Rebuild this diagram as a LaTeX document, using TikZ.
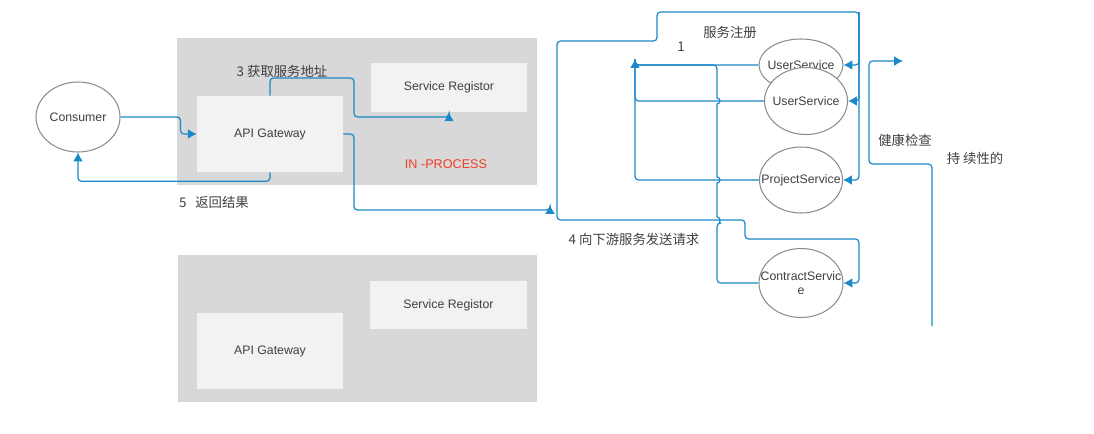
\documentclass[tikz,border=0pt]{standalone}
\usepackage{fontspec}
\setmainfont{Liberation Sans}
\newfontfamily\cjk{Noto Sans CJK SC}
\usepackage{xcolor}
\usepackage{tikz}
\usetikzlibrary{arrows.meta,shapes.geometric}

\definecolor{linkblue}{RGB}{27,136,200}
\definecolor{areagray}{RGB}{216,216,216}
\definecolor{boxgray}{RGB}{242,242,242}
\definecolor{textgray}{RGB}{64,64,64}
\definecolor{procred}{RGB}{240,62,40}

\begin{document}
\begin{tikzpicture}%
                [x=0.02cm,
                y=-0.02cm,
                area/.style={fill=areagray,inner sep=0pt,minimum width=7.2cm,minimum height=2.94cm},
                box/.style={fill=boxgray,inner sep=0pt,text=textgray,font=\fontsize{7}{8.4}\selectfont},
                svctext/.style={inner sep=0pt,text=textgray,align=center,font=\fontsize{7}{8.4}\selectfont},
                svc/.style={ellipse,draw=black!45,fill=white,line width=0.6pt,inner sep=0pt,
                            minimum width=1.68cm,label={[svctext]center:#1}},
                lbl/.style={inner sep=0pt,text=textgray,font=\cjk\fontsize{7.6}{9}\selectfont},
                link/.style={color=linkblue,line width=0.7pt,rounded corners=2pt},
                tip/.style={-{Latex[length=5pt,width=5.5pt]}},
                both/.style={{Latex[length=5pt,width=5.5pt]}-{Latex[length=5pt,width=5.5pt]}},
                hop/.style={start angle=-90,end angle=90,radius=1.7pt}]

            \useasboundingbox (0,0) rectangle (1094,433);
            %% Drawing the process areas
            \node[area] (proc1) at (357,111.5) {};
            \node[area] (proc2) at (357.5,328.5) {};
            %% Boxes inside
            \node[box,minimum width=2.92cm,minimum height=1.52cm] (gw1) at (270,134) {API Gateway};
            \node[box,minimum width=3.12cm,minimum height=0.98cm] (reg1) at (449,87.5) {Service Registor};
            \node[box,minimum width=2.92cm,minimum height=1.52cm] (gw2) at (270,351) {API Gateway};
            \node[box,minimum width=3.14cm,minimum height=0.96cm] (reg2) at (448.5,305) {Service Registor};
            %%
            %% Drawing the services
            %%
            \node[svc=Consumer,minimum height=1.4cm] (consumer) at (78,117) {};
            \node[svc=UserService,minimum height=1.04cm] (user1) at (801,65) {};
            \node[svc=UserService,minimum width=1.66cm,minimum height=1.34cm] (user2) at (806,101) {};
            \node[svc=ProjectService,minimum width=1.66cm,minimum height=1.32cm] (project) at (801,180) {};
            \node[svc={ContractServic\\e},minimum height=1.38cm] (contract) at (801,283) {};
            %%
            %% Labels
            %%
            \node[lbl] (getaddr) at (282,71) {3 获取服务地址};
            \node[lbl,text=procred,font=\fontsize{7.2}{8.6}\selectfont] (inproc) at (446,164) {IN -PROCESS};
            \node[lbl] (retres) at (214,202) {5\hspace{5pt}返回结果};
            \node[lbl] (reglbl) at (730,32) {服务注册};
            \node[lbl] (stepone) at (681,47) {1};
            \node[lbl] (sendreq) at (634,239) {4 向下游服务发送请求};
            \node[lbl] (health) at (905,140) {健康检查};
            \node[lbl] (persist) at (975,158) {持 续性的};
            %%
            %% Bend points
            %%
            \coordinate (q1) at (354,78);
            \coordinate (q2) at (354,117);
            \coordinate (q3) at (354,210);
            \coordinate (fanin) at (550,205);
            \coordinate (hub) at (557,220);
            \coordinate (c1) at (657,41);
            \coordinate (top) at (859,12);
            \coordinate (c2) at (745,239);
            \coordinate (c3) at (859,239);
            \coordinate (regtip) at (635,59);
            \coordinate (j1) at (717,65);
            \coordinate (hop1) at (717,104);
            \coordinate (hop2) at (717,183);
            \coordinate (hop3) at (717,223);
            \coordinate (hcbot) at (932,326);
            \coordinate (hc1) at (869,164);
            \coordinate (hctip) at (903,61);
            %%
            %% Gateway flow
            %%
            \draw[link,tip] (consumer.east) -- ++(60,0) |- (gw1.west);
            \draw[link,tip] (gw1.south) -- ++(0,9) -| (consumer.south);
            \draw[link,tip] (gw1.north) |- (q1) -- (q2) -| (reg1.south);
            \draw[link,tip] (gw1.east) -| (q3) -| (fanin);
            %%
            %% Requests to the services
            %%
            \draw[link,both] (contract.east) -| (c3) -- (c2) |- (hub) |- (c1) |- (top) |- (project.east);
            \draw[link,tip] (top) |- (user1.east);
            \draw[link,tip] (top) |- (user2.east);
            %%
            %% Registration
            %%
            \draw[link,tip] (project.west) -| (regtip);
            \draw[link] (user2.west) -| (regtip);
            \draw[link] (user1.west) -| (regtip);
            \draw[link] (contract.west) -| (hop3) [sharp corners] arc[hop] -- (hop2) arc[hop]
                        -- (hop1) arc[hop] [rounded corners=2pt] -- (j1) -| (regtip);
            %%
            %% Health check
            %%
            \draw[link,tip] (hcbot) |- (hc1) |- (hctip);
\end{tikzpicture}
\end{document}
